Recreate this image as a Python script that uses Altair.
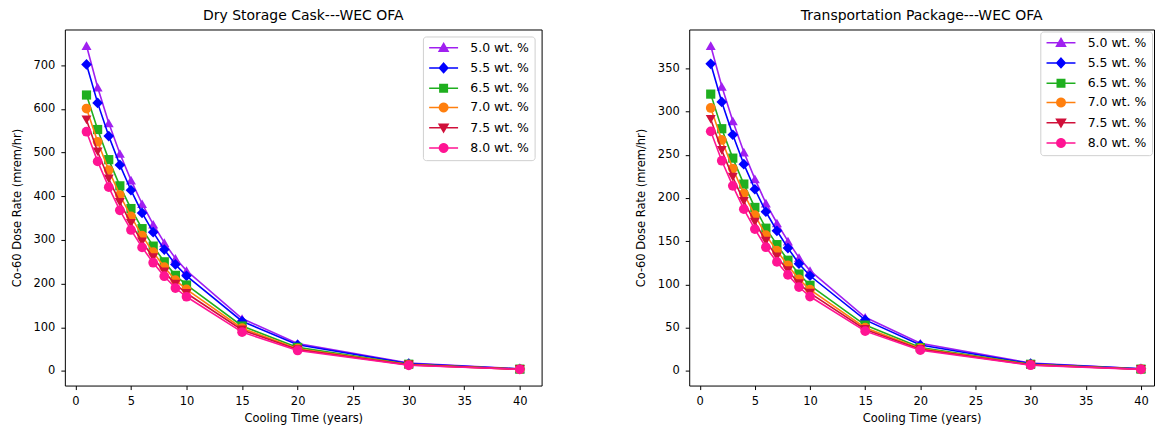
import math
import altair as alt
import pandas as pd

years = [1, 2, 3, 4, 5, 6, 7, 8, 9, 10, 15, 20, 30, 40]
series = ["5.0 wt. %", "5.5 wt. %", "6.5 wt. %", "7.0 wt. %", "7.5 wt. %", "8.0 wt. %"]
colors = ["#A020F0", "#0000FF", "#1FAF1F", "#FF7F0E", "#D0103A", "#FF1493"]
shapes = ["triangle-up", "diamond", "square", "circle", "triangle-down", "circle"]

# Dry Storage Cask---WEC OFA
dry_50 = [745, 650, 568, 498, 437, 383, 336, 294, 258, 230, 120, 63, 18, 5.0]
dry_55 = [702, 614, 538, 472, 414, 362, 318, 278, 244, 218, 114, 60, 17, 4.7]
dry_65 = [632, 553, 484, 424, 372, 326, 286, 250, 219, 197, 103, 54, 15.5, 4.3]
dry_70 = [601, 525, 460, 403, 354, 310, 272, 238, 208, 187, 98, 51, 14.5, 4.0]
dry_75 = [575, 502, 440, 386, 338, 296, 260, 227, 199, 178, 94, 49, 14, 3.9]
dry_80 = [548, 480, 421, 368, 323, 283, 248, 217, 190, 170, 89, 47, 13, 3.7]

# Transportation Package---WEC OFA
tp_50 = [376, 329, 289, 253, 222, 194, 171, 150, 131, 116, 62, 32, 9.0, 2.5]
tp_55 = [355, 311, 273, 239, 210, 184, 162, 142, 124, 110, 59, 30, 8.5, 2.4]
tp_65 = [320, 280, 246, 216, 189, 165, 146, 128, 112, 99, 53, 27, 7.7, 2.1]
tp_70 = [304, 267, 234, 205, 180, 157, 139, 122, 106, 94, 50, 26, 7.3, 2.0]
tp_75 = [291, 255, 224, 196, 172, 150, 132, 116, 101, 90, 48, 25, 7.0, 1.9]
tp_80 = [277, 243, 214, 187, 164, 143, 126, 111, 97, 86, 46, 24, 6.6, 1.8]

x_ticks = [0, 5, 10, 15, 20, 25, 30, 35, 40]
dry_ticks = [0, 100, 200, 300, 400, 500, 600, 700]
tp_ticks = [0, 50, 100, 150, 200, 250, 300, 350]


def _circle(cx, r, n=20):
    pts = [(cx + r * math.cos(2 * math.pi * k / n), r * math.sin(2 * math.pi * k / n)) for k in range(n)]
    return "M" + "L".join(f"{a:.3f},{b:.3f}" for a, b in pts) + "Z"


# legend symbols: a short line with the marker on it (custom paths, 1 unit = sqrt(symbolSize)/2 px)
LINE = "M-1,0L4.8,0"
legend_paths = [
    LINE + "M1.9,-0.85L2.8,0.7L1.0,0.7Z",
    LINE + "M1.9,-0.95L2.75,0L1.9,0.95L1.05,0Z",
    LINE + "M1.15,-0.75L2.65,-0.75L2.65,0.75L1.15,0.75Z",
    LINE + _circle(1.9, 0.85),
    LINE + "M1.9,0.85L2.8,-0.7L1.0,-0.7Z",
    LINE + _circle(1.9, 0.85),
]

FONT = "DejaVu Sans"
MARK_SIZE = {"triangle-up": 100, "diamond": 115, "square": 85, "circle": 95, "triangle-down": 100}

LEFT_W = 478
RIGHT_W = 466
PLOT_H = 357


def make_df(cols):
    rows = []
    for s, vals in zip(series, cols):
        for t, v in zip(years, vals):
            rows.append({"Year": t, "Dose": v, "Series": s})
    return pd.DataFrame(rows)


def panel(cols, title, ticks, width, px_per_year, leg_offset):
    df = make_df(cols)
    allv = [v for c in cols for v in c]
    lo, hi = min(allv), max(allv)
    pad = (hi - lo) * 0.05
    xpad = (max(years) - min(years)) * 0.05
    xmin = min(years) - xpad
    xmax = xmin + width / px_per_year
    xs = alt.Scale(domain=[xmin, xmax], nice=False, zero=False)
    ys = alt.Scale(domain=[lo - pad, hi + pad], nice=False, zero=False)
    x = alt.X("Year:Q", scale=xs, axis=alt.Axis(values=x_ticks, title="Cooling Time (years)"))
    y = alt.Y("Dose:Q", scale=ys, axis=alt.Axis(values=ticks, title="Co-60 Dose Rate (mrem/hr)"))
    base = alt.Chart(df)
    layers = []
    for s, shp, col in zip(series, shapes, colors):
        sub = base.transform_filter(alt.datum.Series == s)
        layers.append(sub.mark_line(strokeWidth=1.6, color=col).encode(
            x=x, y=y, order=alt.Order("Year:Q"),
        ))
        layers.append(sub.mark_point(filled=True, shape=shp, size=MARK_SIZE[shp], opacity=1, color=col).encode(
            x=x, y=y,
        ))
    leg = dict(
        title=None, orient="top-right", offset=leg_offset, padding=5,
        strokeColor="#d0d0d0", fillColor="white", cornerRadius=3,
        symbolSize=100, symbolStrokeWidth=1.5, labelOffset=30, symbolOpacity=1,
        labelFont=FONT, labelFontSize=12.5, labelColor="black",
        rowPadding=5.3,
    )
    # legend-only layer: its points sit outside the plot and are clipped away
    legend_layer = base.mark_point(filled=True, clip=True, opacity=1).encode(
        x=alt.value(-200), y=alt.value(-200),
        fill=alt.Fill("Series:N", scale=alt.Scale(domain=series, range=colors), legend=alt.Legend(**leg)),
        stroke=alt.Stroke("Series:N", scale=alt.Scale(domain=series, range=colors), legend=alt.Legend(**leg)),
        shape=alt.Shape("Series:N", scale=alt.Scale(domain=series, range=legend_paths), legend=alt.Legend(**leg)),
    )
    layers.append(legend_layer)
    return alt.layer(*layers).properties(
        width=width, height=PLOT_H,
        title=alt.TitleParams(title, font=FONT, fontSize=14, fontWeight="normal", color="black", offset=6.5),
    )


left = panel([dry_50, dry_55, dry_65, dry_70, dry_75, dry_80], "Dry Storage Cask---WEC OFA",
             dry_ticks, LEFT_W, 11.14, 7)
right = panel([tp_50, tp_55, tp_65, tp_70, tp_75, tp_80], "Transportation Package---WEC OFA",
              tp_ticks, RIGHT_W, 11.06, 2)

chart = alt.hconcat(left, right, spacing=148, bounds="flush").resolve_scale(
    fill="independent", stroke="independent", shape="independent"
).resolve_legend(
    fill="independent", stroke="independent", shape="independent"
).properties(
    padding={"left": 2, "top": 0, "right": 0, "bottom": 0}
).configure_view(stroke="black", strokeWidth=1).configure_axis(
    domain=False, grid=False, tickColor="black", tickSize=4, tickWidth=1,
    labelFont=FONT, labelFontSize=11.5, labelColor="black", labelPadding=6,
    titleFont=FONT, titleFontSize=11.5, titleFontWeight="normal", titleColor="black",
    titlePadding=6,
).configure_axisX(labelFlush=False).configure_axisY(labelFlush=False, titlePadding=11)

chart.save("out.html", embed_options={"renderer": "svg", "actions": False})
